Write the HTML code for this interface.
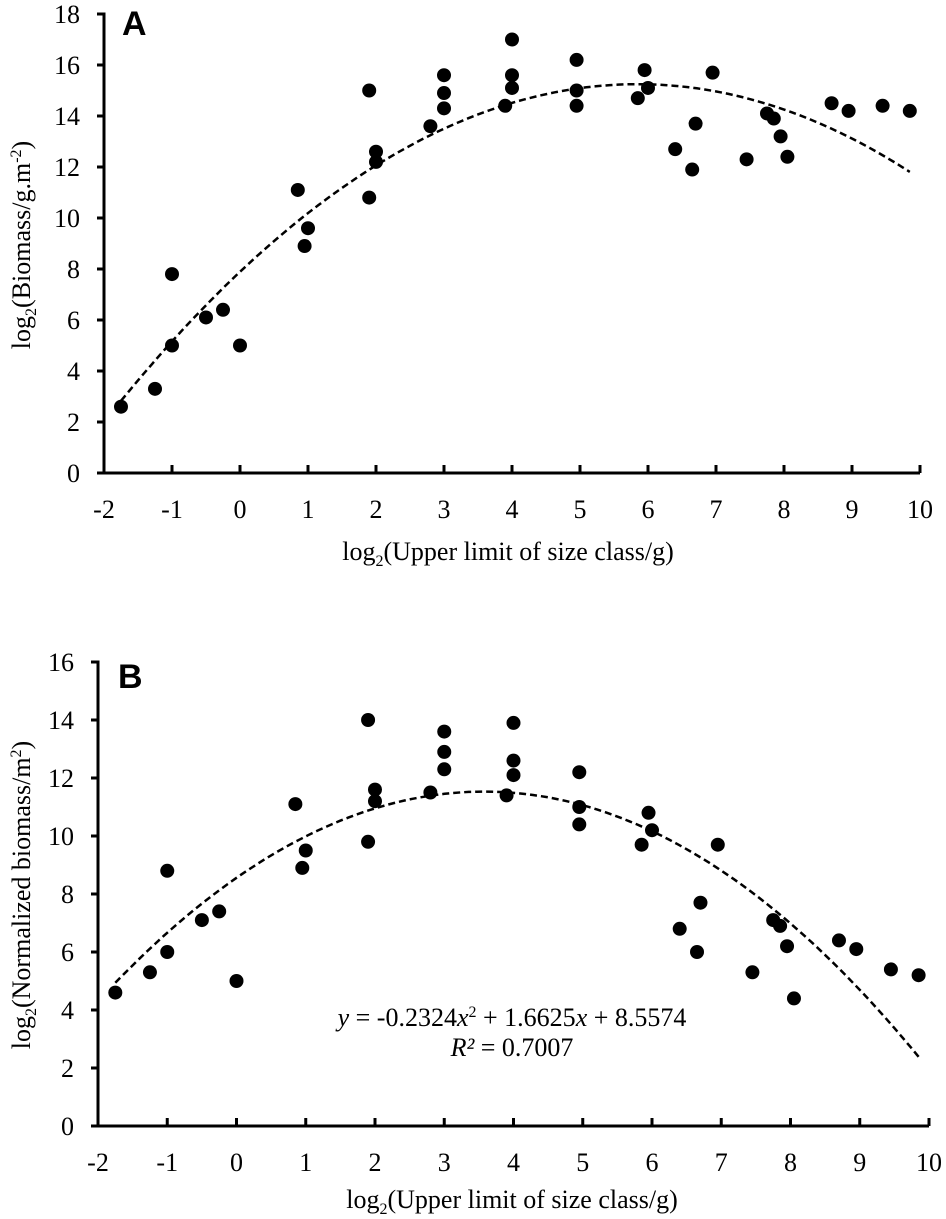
<!DOCTYPE html>
<html><head><meta charset="utf-8"><style>
body{margin:0;background:#fff}
svg{display:block;font-family:"Liberation Serif",serif}
</style></head><body>
<svg id="fig" width="946" height="1219" viewBox="0 0 946 1219"></svg>
<script>
const xTicks=[-2,-1,0,1,2,3,4,5,6,7,8,9,10];
const yTicksA=[0,2,4,6,8,10,12,14,16,18];
const yTicksB=[0,2,4,6,8,10,12,14,16];
const xVals=[-1.75,-1.25,-1,-1,-0.5,-0.25,0,0.85,0.95,1,1.9,1.9,2,2,2.8,3,3,3,3.9,4,4,4,4.95,4.95,4.95,5.85,5.95,6,6.4,6.65,6.7,6.95,7.45,7.75,7.85,7.95,8.05,8.7,8.95,9.45,9.85];
const yValsA=[2.6,3.3,5.0,7.8,6.1,6.4,5.0,11.1,8.9,9.6,15.0,10.8,12.6,12.2,13.6,15.6,14.9,14.3,14.4,17.0,15.6,15.1,16.2,15.0,14.4,14.7,15.8,15.1,12.7,11.9,13.7,15.7,12.3,14.1,13.9,13.2,12.4,14.5,14.2,14.4,14.2];
const yValsB=[4.6,5.3,6.0,8.8,7.1,7.4,5.0,11.1,8.9,9.5,14.0,9.8,11.6,11.2,11.5,13.6,12.9,12.3,11.4,13.9,12.6,12.1,12.2,11.0,10.4,9.7,10.8,10.2,6.8,6.0,7.7,9.7,5.3,7.1,6.9,6.2,4.4,6.4,6.1,5.4,5.2];
const fitA=[-0.215,2.5155,7.89];
const fitB=[-0.2324,1.6625,8.5574];
const fitRange=[-1.75,9.85];

const NS="http://www.w3.org/2000/svg";
const svg=document.getElementById('fig');
function mk(tag,attrs,parent,text){const e=document.createElementNS(NS,tag);for(const k in attrs)e.setAttribute(k,attrs[k]);if(text!==undefined)e.textContent=text;(parent||svg).appendChild(e);return e;}

function panel(p){
  const g=mk('g',{});
  
  
  const X=v=>p.x0+(v-xTicks[0])*p.xs;
  const Y=v=>p.y0-v*p.ys;
  const yMax=p.yTicks[p.yTicks.length-1];
  const ax=mk('path',{d:`M${X(-2)-7},${Y(yMax)} H${X(-2)} V${Y(0)} H${X(10)}`,fill:'none',stroke:'#000','stroke-width':3},g);
  
  
  xTicks.forEach(t=>{
    if(t>-2){const l=mk('line',{x1:X(t),x2:X(t),y1:Y(0),y2:Y(0)-8,stroke:'#000','stroke-width':3},g);
    
    }
    const tx=mk('text',{x:X(t),y:p.y0+45,'text-anchor':'middle','font-size':26},g,String(t));
    
    
  });
  p.yTicks.forEach(t=>{
    const l=mk('line',{x1:X(-2),x2:X(-2)-7,y1:Y(t),y2:Y(t),stroke:'#000','stroke-width':3},g);
    
    
    const tx=mk('text',{x:X(-2)-24,y:Y(t)+9,'text-anchor':'end','font-size':26},g,String(t));
    
    
  });
  let d='';
  for(let i=0;i<=100;i++){const x=fitRange[0]+(fitRange[1]-fitRange[0])*i/100;const y=p.fit[0]*x*x+p.fit[1]*x+p.fit[2];d+=(i?'L':'M')+X(x).toFixed(1)+','+Y(y).toFixed(1);}
  const c=mk('path',{d,fill:'none',stroke:'#000','stroke-width':2.5,'stroke-dasharray':'7,4'},g);
  
  
  xVals.forEach((x,i)=>{
    const pt=mk('circle',{cx:X(x),cy:Y(p.ys_vals[i]),r:7,fill:'#000'},g);
    
    
  });
  const L=mk('text',{x:p.lx,y:p.ly,'font-size':34,'font-weight':'bold','font-family':'Liberation Sans, sans-serif'},g,p.letter);
  
  
  return {g,X,Y};
}

const A=panel({name:'panel-a',x0:104,y0:473,xs:68,ys:25.5,yTicks:yTicksA,fit:fitA,ys_vals:yValsA,letter:'A',lx:122,ly:35});
const B=panel({name:'panel-b',x0:98,y0:1126,xs:69.25,ys:29,yTicks:yTicksB,fit:fitB,ys_vals:yValsB,letter:'B',lx:118,ly:688});

function title(g,html,x,y,rot,name){
  const t=mk('text',{x,y,'text-anchor':'middle','font-size':26,transform:rot?`rotate(-90 ${x} ${y})`:''},g);
  t.innerHTML=html;
  
  
}
title(A.g,'log<tspan font-size="16" dy="6">2</tspan><tspan dy="-6">(Upper limit of size class/g)</tspan>',508,560,false,'x-axis-title');
title(A.g,'log<tspan font-size="16" dy="6">2</tspan><tspan dy="-6">(Biomass/g.m</tspan><tspan font-size="16" dy="-9">-2</tspan><tspan dy="9">)</tspan>',30,245,true,'y-axis-title');
title(B.g,'log<tspan font-size="16" dy="6">2</tspan><tspan dy="-6">(Upper limit of size class/g)</tspan>',512,1208,false,'x-axis-title');
title(B.g,'log<tspan font-size="16" dy="6">2</tspan><tspan dy="-6">(Normalized biomass/m</tspan><tspan font-size="16" dy="-9">2</tspan><tspan dy="9">)</tspan>',30,895,true,'y-axis-title');
title(B.g,'<tspan font-style="italic">y</tspan> = -0.2324<tspan font-style="italic">x</tspan><tspan font-size="16" dy="-9">2</tspan><tspan dy="9"> + 1.6625</tspan><tspan font-style="italic">x</tspan> + 8.5574',512,1026,false,'equation');
title(B.g,'<tspan font-style="italic">R²</tspan> = 0.7007',512,1056,false,'r-squared');
</script>
</body></html>
